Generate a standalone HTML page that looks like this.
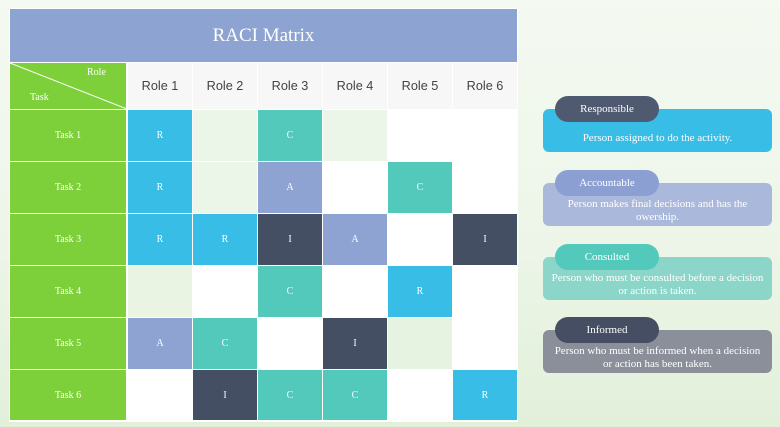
<!DOCTYPE html>
<html><head><meta charset="utf-8"><style>
*{margin:0;padding:0;box-sizing:border-box}
html,body{width:780px;height:427px;overflow:hidden}
body{background:linear-gradient(to bottom,#f4f9f1 0%,#eef6ea 50%,#e2f0da 100%);position:relative;font-family:"Liberation Serif",serif}
.tbl{position:absolute;left:9px;top:8px;width:509px;height:414px;background:#fff}
.c{position:absolute;display:flex;align-items:center;justify-content:center;color:#fff;font-family:"Liberation Serif",serif;font-size:10px}
.title{left:10px;top:9px;width:507px;height:53px;background:#8da3d2;font-size:19px}
.hd{background:#f7f7f7;color:#444;font-family:"Liberation Sans",sans-serif;font-size:12.7px}
.tk{background:#7ed03a}
.R{background:#37bde6}
.C{background:#52c9bb}
.A{background:#8fa3d2}
.I{background:#454f63}
.G{background:#ecf6e8}
.W{background:#fff}
.box{position:absolute;left:543px;width:229px;height:43px;border-radius:6px;color:#fff;font-size:11px;text-align:center;line-height:13px;display:flex;align-items:center;justify-content:center;padding:13px 1px 0;white-space:nowrap}
.pill{position:absolute;left:555px;width:104px;height:26px;border-radius:13px;color:#fff;font-size:11px;display:flex;align-items:center;justify-content:center}
</style></head><body>
<div class="tbl"></div>
<div class="c title">RACI Matrix</div>

<div class="c tk" style="left:10px;top:63px;width:116px;height:46px"></div>
<svg style="position:absolute;left:10px;top:63px" width="117" height="47"><line x1="0" y1="0" x2="117" y2="46" stroke="#fff" stroke-width="1"/></svg>
<div style="position:absolute;left:87px;top:67px;color:#fff;font-size:10px">Role</div>
<div style="position:absolute;left:30px;top:92px;color:#fff;font-size:10px">Task</div>

<div class="c hd" style="left:128px;top:63px;width:64px;height:46px">Role 1</div>
<div class="c hd" style="left:193px;top:63px;width:64px;height:46px">Role 2</div>
<div class="c hd" style="left:258px;top:63px;width:64px;height:46px">Role 3</div>
<div class="c hd" style="left:323px;top:63px;width:64px;height:46px">Role 4</div>
<div class="c hd" style="left:388px;top:63px;width:64px;height:46px">Role 5</div>
<div class="c hd" style="left:453px;top:63px;width:64px;height:46px">Role 6</div>

<!-- Task 1 -->
<div class="c tk" style="left:10px;top:110px;width:116px;height:51px">Task 1</div>
<div class="c R" style="left:128px;top:110px;width:64px;height:51px">R</div>
<div class="c G" style="left:193px;top:110px;width:64px;height:51px"></div>
<div class="c C" style="left:258px;top:110px;width:64px;height:51px">C</div>
<div class="c G" style="left:323px;top:110px;width:64px;height:51px"></div>
<div class="c W" style="left:388px;top:110px;width:64px;height:51px"></div>
<div class="c W" style="left:453px;top:110px;width:64px;height:51px"></div>
<!-- Task 2 -->
<div class="c tk" style="left:10px;top:162px;width:116px;height:51px">Task 2</div>
<div class="c R" style="left:128px;top:162px;width:64px;height:51px">R</div>
<div class="c G" style="left:193px;top:162px;width:64px;height:51px"></div>
<div class="c A" style="left:258px;top:162px;width:64px;height:51px">A</div>
<div class="c W" style="left:323px;top:162px;width:64px;height:51px"></div>
<div class="c C" style="left:388px;top:162px;width:64px;height:51px">C</div>
<div class="c W" style="left:453px;top:162px;width:64px;height:51px"></div>
<!-- Task 3 -->
<div class="c tk" style="left:10px;top:214px;width:116px;height:51px">Task 3</div>
<div class="c R" style="left:128px;top:214px;width:64px;height:51px">R</div>
<div class="c R" style="left:193px;top:214px;width:64px;height:51px">R</div>
<div class="c I" style="left:258px;top:214px;width:64px;height:51px">I</div>
<div class="c A" style="left:323px;top:214px;width:64px;height:51px">A</div>
<div class="c W" style="left:388px;top:214px;width:64px;height:51px"></div>
<div class="c I" style="left:453px;top:214px;width:64px;height:51px">I</div>
<!-- Task 4 -->
<div class="c tk" style="left:10px;top:266px;width:116px;height:51px">Task 4</div>
<div class="c G" style="left:128px;top:266px;width:64px;height:51px;background:#e9f4e3"></div>
<div class="c W" style="left:193px;top:266px;width:64px;height:51px"></div>
<div class="c C" style="left:258px;top:266px;width:64px;height:51px">C</div>
<div class="c W" style="left:323px;top:266px;width:64px;height:51px"></div>
<div class="c R" style="left:388px;top:266px;width:64px;height:51px">R</div>
<div class="c W" style="left:453px;top:266px;width:64px;height:51px"></div>
<!-- Task 5 -->
<div class="c tk" style="left:10px;top:318px;width:116px;height:51px">Task 5</div>
<div class="c A" style="left:128px;top:318px;width:64px;height:51px">A</div>
<div class="c C" style="left:193px;top:318px;width:64px;height:51px">C</div>
<div class="c W" style="left:258px;top:318px;width:64px;height:51px"></div>
<div class="c I" style="left:323px;top:318px;width:64px;height:51px">I</div>
<div class="c G" style="left:388px;top:318px;width:64px;height:51px;background:#e6f3e0"></div>
<div class="c W" style="left:453px;top:318px;width:64px;height:51px"></div>
<!-- Task 6 -->
<div class="c tk" style="left:10px;top:370px;width:116px;height:50px">Task 6</div>
<div class="c W" style="left:128px;top:370px;width:64px;height:50px"></div>
<div class="c I" style="left:193px;top:370px;width:64px;height:50px">I</div>
<div class="c C" style="left:258px;top:370px;width:64px;height:50px">C</div>
<div class="c C" style="left:323px;top:370px;width:64px;height:50px">C</div>
<div class="c W" style="left:388px;top:370px;width:64px;height:50px"></div>
<div class="c R" style="left:453px;top:370px;width:64px;height:50px">R</div>

<!-- Legend -->
<div class="box" style="top:109px;background:#37bde6;padding-top:16px">Person assigned to do the activity.</div>
<div class="pill" style="top:96px;background:#4f5a70">Responsible</div>

<div class="box" style="top:183px;background:#aab8dc">Person makes final decisions and has the<br>owership.</div>
<div class="pill" style="top:170px;background:#8c9fd3">Accountable</div>

<div class="box" style="top:257px;background:#8bd6c9">Person who must be consulted before a decision<br>or action is taken.</div>
<div class="pill" style="top:244px;background:#52c9bb">Consulted</div>

<div class="box" style="top:330px;background:#8b8f99">Person who must be informed when a decision<br>or action has been taken.</div>
<div class="pill" style="top:317px;background:#454e62">Informed</div>
</body></html>
